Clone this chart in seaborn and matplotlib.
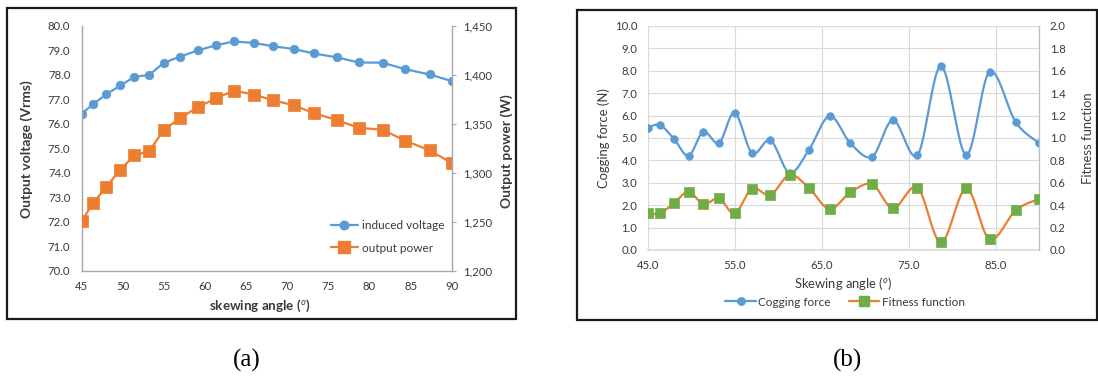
import numpy as np
import matplotlib
matplotlib.use("Agg")
import matplotlib.pyplot as plt
import seaborn as sns
from matplotlib.lines import Line2D
from matplotlib.patches import Rectangle
from matplotlib.ticker import FuncFormatter, MultipleLocator

# ---------------- data ----------------
angles = [45.0, 46.4, 48.0, 49.7, 51.4, 53.2, 55.0, 57.0, 59.1, 61.3, 63.5,
          65.9, 68.3, 70.8, 73.2, 76.0, 78.7, 81.6, 84.3, 87.3, 90.0]
induced_voltage = [76.42, 76.81, 77.21, 77.57, 77.92, 78.00, 78.50, 78.75, 79.00, 79.21, 79.37,
                   79.31, 79.17, 79.06, 78.88, 78.72, 78.51, 78.50, 78.24, 78.02, 77.75]
output_power = [1251, 1269, 1286, 1303, 1318, 1322, 1344, 1356, 1367, 1376, 1384,
                1380, 1374, 1369, 1361, 1354, 1346, 1344, 1333, 1323, 1310]
cogging_force = [5.46, 5.58, 4.97, 4.21, 5.28, 4.78, 6.13, 4.32, 4.90, 3.45, 4.45,
                 5.98, 4.76, 4.17, 5.80, 4.24, 8.21, 4.24, 7.96, 5.70, 4.76]
fitness_function = [0.327, 0.327, 0.417, 0.521, 0.408, 0.462, 0.327, 0.548, 0.491, 0.670, 0.557,
                    0.366, 0.515, 0.586, 0.372, 0.557, 0.068, 0.550, 0.095, 0.357, 0.456]

BLUE = "#5B9BD5"
ORANGE = "#ED7D31"
GREEN = "#70AD47"
TXT = "#3a3a3a"

sns.set_theme(style="white")
plt.rcParams["font.family"] = ["Lato", "DejaVu Sans"]
plt.rcParams["mathtext.fontset"] = "custom"
plt.rcParams["mathtext.it"] = "Lato:italic"
plt.rcParams["mathtext.rm"] = "Lato"

W, H = 1098, 376
fig = plt.figure(figsize=(W / 100, H / 100), dpi=100)
fig.patch.set_facecolor("white")


def fx(px):
    return px / W


def fy(py):
    return 1 - py / H


def smooth(xs, ys, n=24):
    P = np.column_stack([xs, ys]).astype(float)
    E = np.vstack([P[0], P, P[-1]])
    pts = []
    for i in range(len(P) - 1):
        p0, p1, p2, p3 = E[i], E[i + 1], E[i + 2], E[i + 3]
        c1 = p1 + (p2 - p0) / 6
        c2 = p2 - (p3 - p1) / 6
        t = np.linspace(0, 1, n, endpoint=False)[:, None]
        b = ((1 - t) ** 3) * p1 + 3 * ((1 - t) ** 2) * t * c1 + 3 * (1 - t) * t ** 2 * c2 + t ** 3 * p2
        pts.append(b)
    pts.append(P[-1][None, :])
    A = np.vstack(pts)
    return A[:, 0], A[:, 1]


# ---------------- panel (a) ----------------
axL = fig.add_axes([fx(81.7), fy(270.7), fx(451.7) - fx(81.7), fy(26) - fy(270.7)])
axL2 = axL.twinx()

sns.lineplot(x=angles, y=induced_voltage, ax=axL, color=BLUE, marker="o", markersize=6.2,
             markeredgecolor=BLUE, markeredgewidth=0.5, linewidth=1.6)
sns.lineplot(x=angles, y=output_power, ax=axL2, color=ORANGE, marker="s", markersize=8.4,
             markeredgecolor=ORANGE, markeredgewidth=0.5, linewidth=1.6)

axL.set_xlim(45, 90)
axL.set_ylim(70, 80)
axL2.set_ylim(1200, 1450)
axL.xaxis.set_major_locator(MultipleLocator(5))
axL.yaxis.set_major_locator(MultipleLocator(1))
axL2.yaxis.set_major_locator(MultipleLocator(50))
axL.yaxis.set_major_formatter(FuncFormatter(lambda v, p: f"{v:.1f}"))
axL2.yaxis.set_major_formatter(FuncFormatter(lambda v, p: f"{v:,.0f}"))
axL.xaxis.set_major_formatter(FuncFormatter(lambda v, p: f"{v:.0f}"))

for a in (axL, axL2):
    a.grid(False)
    a.set_facecolor("none")
    for s in a.spines.values():
        s.set_visible(False)
axL.spines["left"].set_visible(True)
axL.spines["bottom"].set_visible(True)
axL2.spines["right"].set_visible(True)
for s in (axL.spines["left"], axL.spines["bottom"], axL2.spines["right"]):
    s.set_color("#A6A6A6")
    s.set_linewidth(1.0)

axL.tick_params(axis="y", length=0, pad=8.2, labelsize=8.2, labelcolor=TXT)
axL.tick_params(axis="x", length=0, pad=7.5, labelsize=8.2, labelcolor=TXT)
axL2.tick_params(axis="y", length=3, width=0.8, color="#A6A6A6", direction="out", pad=5.5,
                 labelsize=8.2, labelcolor=TXT)

axL.set_ylabel("Output voltage (Vrms)", fontsize=10, fontweight="bold", color=TXT, va="center")
axL.yaxis.set_label_coords((27 - 81.7) / 370, 0.497)
axL2.set_ylabel("Output power (W)", fontsize=10, fontweight="bold", color=TXT, va="center")
axL2.yaxis.set_label_coords((506.7 - 81.7) / 370, 0.49)
axL.set_xlabel(r"skewing angle ($^{o}$)", fontsize=9.6, fontweight="bold", color=TXT, va="center")
axL.xaxis.set_label_coords((260 - 81.7) / 370, (270.7 - 306.0) / 244.7)

hL = [Line2D([], [], color=BLUE, marker="o", markersize=6.2, linewidth=1.6),
      Line2D([], [], color=ORANGE, marker="s", markersize=8.4, linewidth=1.6)]
fig.legend(hL, ["induced voltage", "output power"], loc="center left",
           bbox_to_anchor=(fx(325), fy(237)), frameon=False, fontsize=8.5,
           handlelength=2.3, handletextpad=0.3, labelspacing=0.95, borderpad=0,
           labelcolor=TXT)

# ---------------- panel (b) ----------------
axR = fig.add_axes([fx(647.7), fy(250), fx(1039.3) - fx(647.7), fy(26) - fy(250)])
axR2 = axR.twinx()

sxc, syc = smooth(angles, cogging_force)
sns.lineplot(x=sxc, y=syc, ax=axR, color=BLUE, linewidth=1.6, sort=False, estimator=None)
sns.scatterplot(x=angles, y=cogging_force, ax=axR, color=BLUE, marker="o", s=30,
                edgecolor=BLUE, linewidth=0.5, zorder=3)
sxf, syf = smooth(angles, fitness_function)
sns.lineplot(x=sxf, y=syf, ax=axR2, color=ORANGE, linewidth=1.6, sort=False, estimator=None)
sns.scatterplot(x=angles, y=fitness_function, ax=axR2, color=GREEN, marker="s", s=58,
                edgecolor=GREEN, linewidth=0.5, zorder=3)

axR.set_xlim(45, 90)
axR.set_ylim(0, 10)
axR2.set_ylim(0, 2)
axR.set_xticks([45, 55, 65, 75, 85])
axR.yaxis.set_major_locator(MultipleLocator(1))
axR2.yaxis.set_major_locator(MultipleLocator(0.2))
axR.xaxis.set_major_formatter(FuncFormatter(lambda v, p: f"{v:.1f}"))
axR.yaxis.set_major_formatter(FuncFormatter(lambda v, p: f"{v:.1f}"))
axR2.yaxis.set_major_formatter(FuncFormatter(lambda v, p: f"{v:.1f}"))

axR.grid(True, color="#D9D9D9", linewidth=0.8)
axR2.grid(False)
axR.set_axisbelow(True)
axR2.set_facecolor("none")
for a in (axR, axR2):
    for s in a.spines.values():
        s.set_visible(False)
axR.spines["bottom"].set_visible(True)
axR.spines["bottom"].set_color("#D9D9D9")
axR2.spines["right"].set_visible(True)
axR2.spines["right"].set_color("#BFBFBF")
axR2.spines["right"].set_linewidth(1.0)

axR.tick_params(axis="both", length=0, pad=7.5, labelsize=8.2, labelcolor=TXT)
axR2.tick_params(axis="y", length=0, pad=7.5, labelsize=8.2, labelcolor=TXT)

axR.set_ylabel("Cogging force (N)", fontsize=9.4, color=TXT, va="center")
axR.yaxis.set_label_coords((603.3 - 647.7) / 391.6, 0.5)
axR2.set_ylabel("Fitness function", fontsize=9.4, color=TXT, va="center", rotation=90)
axR2.yaxis.set_label_coords((1088 - 647.7) / 391.6, 0.5)
axR.set_xlabel(r"Skewing angle ($^{o}$)", fontsize=9.4, color=TXT, va="center")
axR.xaxis.set_label_coords(0.5, (250 - 283) / 224)

hR = [Line2D([], [], color=BLUE, marker="o", markersize=5.4, linewidth=1.6),
      Line2D([], [], color=ORANGE, marker="s", markersize=7.2, linewidth=1.6,
             markerfacecolor=GREEN, markeredgecolor=GREEN)]
fig.legend(hR, ["Cogging force", "Fitness function"], loc="center",
           bbox_to_anchor=(fx(845), fy(302)), ncol=2, frameon=False, fontsize=8.5,
           handlelength=2.6, handletextpad=0.2, columnspacing=1.5, borderpad=0,
           labelcolor=TXT)

# ---------------- borders & captions ----------------
fig.patches.append(Rectangle((fx(7), fy(319)), fx(516) - fx(7), fy(8) - fy(319),
                             transform=fig.transFigure, fill=False, edgecolor="#1a1a1a",
                             linewidth=1.6))
fig.patches.append(Rectangle((fx(577), fy(320)), fx(1097) - fx(577), fy(10) - fy(320),
                             transform=fig.transFigure, fill=False, edgecolor="#1a1a1a",
                             linewidth=1.6))

fig.text(fx(246.7), fy(360), "(a)", ha="center", va="center", fontsize=18,
         family=["Liberation Serif", "DejaVu Serif"], color="black")
fig.text(fx(847), fy(360), "(b)", ha="center", va="center", fontsize=18,
         family=["Liberation Serif", "DejaVu Serif"], color="black")

fig.savefig("out.png", dpi=100, facecolor="white")
